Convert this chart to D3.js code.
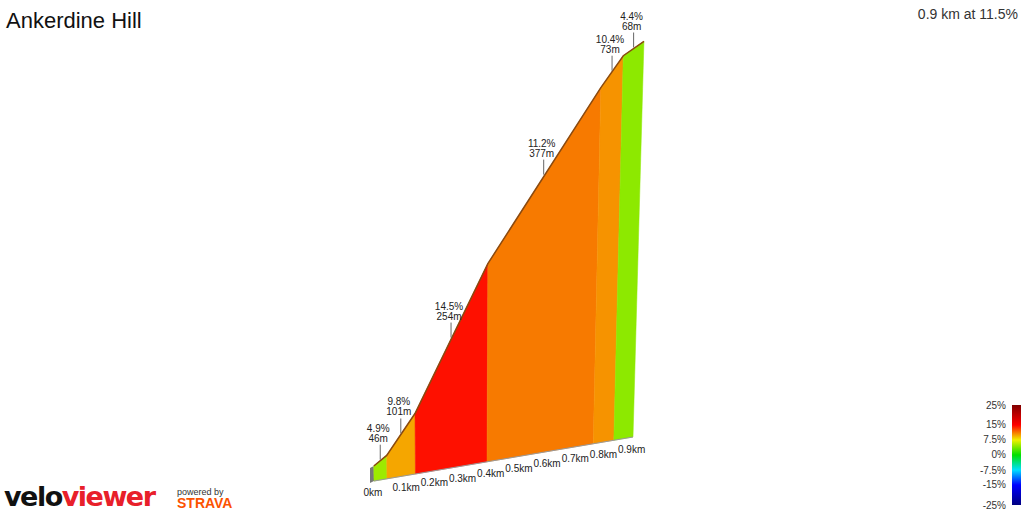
<!DOCTYPE html>
<html>
<head>
<script src="https://cdn.jsdelivr.net/npm/d3@7"></script>
<style>body{margin:0;background:#fff;font-family:Arial,"Liberation Sans",sans-serif}</style>
</head>
<body>
<div id="viz"></div>
<script>
var lengths = [46, 101, 254, 377, 73, 68];
var grades = [4.9, 9.8, 14.5, 11.2, 10.4, 4.4];
var kmTicks = [0, 0.1, 0.2, 0.3, 0.4, 0.5, 0.6, 0.7, 0.8, 0.9];
var legendLabels = ["25%", "15%", "7.5%", "0%", "-7.5%", "-15%", "-25%"];

var svg = d3.select("#viz").append("svg").attr("width", 1024).attr("height", 512);

var color = d3.scaleLinear()
  .domain([-25, -15, -7.5, 0, 7.5, 15, 25])
  .range(["#000080", "#0000ff", "#00e0ff", "#00e000", "#f0f000", "#ff0000", "#800000"]);

var bx = d3.scaleLinear().domain([0, 919]).range([374, 633]);
var by = d3.scaleLinear().domain([0, 919]).range([481, 437]);
var hy = d3.scaleLinear().domain([0, 100]).range([15, 389]);

// cumulative points
var pts = [{d: 0, e: 0}];
lengths.forEach(function (l, i) {
  var p = pts[pts.length - 1];
  pts.push({d: p.d + l, e: p.e + l * grades[i] / 100});
});
function topPt(p) {
  var x = bx(p.d), h = hy(p.e);
  return [x + (x - 460) * h * 0.00016, by(p.d) - h];
}
function basePt(p) { return [bx(p.d), by(p.d)]; }

// side face
svg.append("polygon")
  .attr("points", [[370, 483], basePt(pts[0]), topPt(pts[0]), [370, 468]].join(" "))
  .attr("fill", "#777");

lengths.forEach(function (l, i) {
  var a = pts[i], b = pts[i + 1];
  svg.append("polygon")
    .attr("points", [basePt(a), basePt(b), topPt(b), topPt(a)].join(" "))
    .attr("fill", color(grades[i]))
    .attr("stroke", color(grades[i])).attr("stroke-width", 0.5);
});
svg.append("path")
  .attr("d", d3.line()(pts.map(topPt)))
  .attr("fill", "none").attr("stroke", "#8a4a10").attr("stroke-width", 1.5);
svg.append("path")
  .attr("d", d3.line()([basePt(pts[0]), basePt(pts[pts.length - 1])]))
  .attr("fill", "none").attr("stroke", "#999").attr("stroke-width", 1);

// segment labels
lengths.forEach(function (l, i) {
  var m = {d: (pts[i].d + pts[i + 1].d) / 2, e: (pts[i].e + pts[i + 1].e) / 2};
  var t = topPt(m);
  svg.append("line").attr("x1", t[0]).attr("x2", t[0]).attr("y1", t[1] - 1).attr("y2", t[1] - 16)
    .attr("stroke", "#666");
  var g = svg.append("text").attr("text-anchor", "middle")
    .attr("font-size", 10).attr("fill", "#222");
  g.append("tspan").attr("x", t[0] - 2).attr("y", t[1] - 29).text(grades[i] + "%");
  g.append("tspan").attr("x", t[0] - 2).attr("y", t[1] - 19).text(l + "m");
});

// km labels
kmTicks.forEach(function (k) {
  var d = k * 1000;
  svg.append("text").attr("x", bx(d) + (k === 0 ? -1 : 4)).attr("y", by(d) + 15)
    .attr("text-anchor", "middle").attr("font-size", 10).attr("fill", "#222")
    .text(k + "km");
});

// title
svg.append("text").attr("x", 6).attr("y", 28).attr("font-size", 22).attr("fill", "#111").text("Ankerdine Hill");
svg.append("text").attr("x", 1018).attr("y", 19).attr("text-anchor", "end").attr("font-size", 14)
  .attr("fill", "#333").text("0.9 km at 11.5%");

// legend
var grad = svg.append("defs").append("linearGradient").attr("id", "lg")
  .attr("x1", 0).attr("y1", 0).attr("x2", 0).attr("y2", 1);
d3.range(25, -25.1, -2.5).forEach(function (v) {
  grad.append("stop").attr("offset", (25 - v) / 50).attr("stop-color", color(v));
});
svg.append("rect").attr("x", 1012).attr("y", 405).attr("width", 9).attr("height", 100).attr("fill", "url(#lg)");
var lpos = [405, 424, 439, 454, 470, 484, 505];
legendLabels.forEach(function (t, i) {
  svg.append("text").attr("x", 1006).attr("y", lpos[i] + 4).attr("text-anchor", "end")
    .attr("font-size", 10).attr("fill", "#333").text(t);
});

// logo
var lg = svg.append("text").attr("x", 4).attr("y", 506).attr("font-size", 27).attr("font-weight", "bold")
  .attr("letter-spacing", -1.5).attr("font-family", "'DejaVu Sans', sans-serif");
lg.append("tspan").attr("fill", "#111").text("velo");
lg.append("tspan").attr("fill", "#e8202a").text("viewer");
svg.append("text").attr("x", 177).attr("y", 495).attr("font-size", 9).attr("fill", "#333").text("powered by");
svg.append("text").attr("x", 177).attr("y", 508).attr("font-size", 14).attr("font-weight", "bold")
  .attr("fill", "#fc5200").text("STRAVA");
</script>
</body>
</html>
